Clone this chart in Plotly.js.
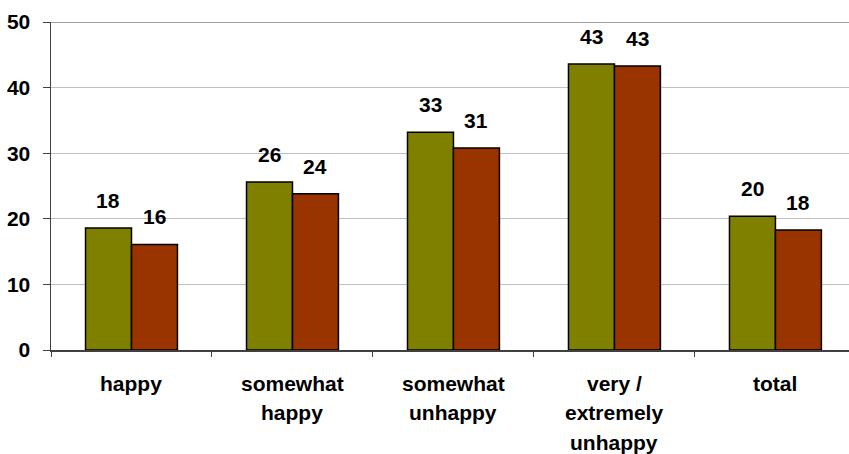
<!DOCTYPE html>
<html>
<head>
<meta charset="utf-8">
<script src="https://cdn.plot.ly/plotly-3.0.1.min.js"></script>
<style>html,body{margin:0;padding:0;background:#fff;overflow:hidden}</style>
</head>
<body>
<div id="chart" style="width:849px;height:454px"></div>
<script>
const categories = ["happy", "somewhat happy", "somewhat unhappy", "very / extremely unhappy", "total"];
const categoryLines = [["happy"], ["somewhat", "happy"], ["somewhat", "unhappy"], ["very /", "extremely", "unhappy"], ["total"]];
const seriesA = [18.6, 25.6, 33.2, 43.6, 20.4];
const seriesB = [16.1, 23.8, 30.8, 43.3, 18.3];
const labelsA = [18, 26, 33, 43, 20];
const labelsB = [16, 24, 31, 43, 18];
const yTicks = [0, 10, 20, 30, 40, 50];

const FONT = "Liberation Sans, Arial, sans-serif";
const colorA = "#808000", colorB = "#993300";

const traces = [
  {type: "bar", name: "A", x: categories, y: seriesA,
   marker: {color: colorA, line: {color: "#000", width: 1.5}}, hoverinfo: "none"},
  {type: "bar", name: "B", x: categories, y: seriesB,
   marker: {color: colorB, line: {color: "#000", width: 1.5}}, hoverinfo: "none"}
];

const annotations = [];
[[seriesA, labelsA], [seriesB, labelsB]].forEach(([s, lab], si) => {
  s.forEach((v, i) => {
    annotations.push({
      x: categories[i], y: v, xref: "x", yref: "y",
      text: String(lab[i]), showarrow: false,
      xshift: si === 0 ? -23 : 23, yshift: 14, yanchor: "bottom",
      font: {family: FONT, size: 21, color: "#000", weight: "bold"}
    });
  });
});
categoryLines.forEach((lines, i) => {
  lines.forEach((ln, li) => {
    annotations.push({
      x: categories[i], y: 0, xref: "x", yref: "y",
      text: ln, showarrow: false, yanchor: "middle",
      yshift: -33 - 29.5 * li,
      font: {family: FONT, size: 21, color: "#000", weight: "bold"}
    });
  });
});

const layout = {
  width: 849, height: 454,
  margin: {l: 51, r: 0, t: 22, b: 104},
  paper_bgcolor: "#fff", plot_bgcolor: "#fff",
  showlegend: false,
  barmode: "group", bargap: 0.429, bargroupgap: 0,
  xaxis: {
    type: "category", range: [-0.5, 4.457],
    showline: true, linecolor: "#404040", linewidth: 1.5,
    ticks: "outside", tickson: "boundaries", ticklen: 5, tickcolor: "#404040", tickwidth: 1,
    showticklabels: false, showgrid: false, zeroline: false, fixedrange: true
  },
  yaxis: {
    range: [0, 50], tickvals: yTicks, ticktext: yTicks.map(String),
    showline: true, linecolor: "#404040", linewidth: 1.5,
    ticks: "outside", ticklen: 7, tickcolor: "#404040", tickwidth: 1,
    ticklabelstandoff: 8,
    showgrid: true, gridcolor: "#c0c0c0", gridwidth: 1, zeroline: false,
    tickfont: {family: FONT, size: 21, color: "#000", weight: "bold"}, fixedrange: true
  },
  shapes: [{type: "line", xref: "paper", yref: "y", x0: 0, x1: 1, y0: 50, y1: 50,
            line: {color: "#a0a0a0", width: 2}}],
  annotations: annotations
};

Plotly.newPlot("chart", traces, layout, {displayModeBar: false, staticPlot: true});
</script>
</body>
</html>
